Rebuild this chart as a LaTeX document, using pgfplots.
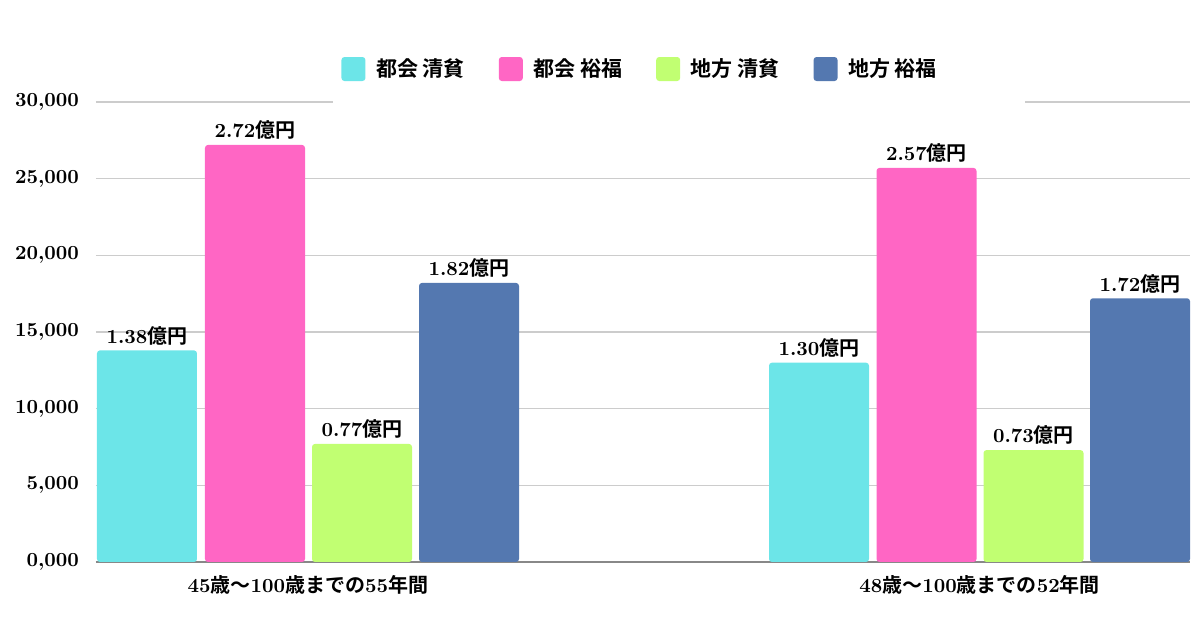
\documentclass[border=0pt]{standalone}
\usepackage{fontspec}
\usepackage{pgfplots}
\pgfplotsset{compat=1.18}
\newfontfamily\cjk{Noto Sans CJK JP}[BoldFont={Noto Sans CJK JP Bold}]
\newcommand\J[1]{{\cjk\bfseries #1}}
\definecolor{cC}{HTML}{6CE5E8}
\definecolor{cP}{HTML}{FF66C4}
\definecolor{cG}{HTML}{C1FF72}
\definecolor{cB}{HTML}{5478B0}
\definecolor{grd}{HTML}{CCCCCC}
\definecolor{axl}{HTML}{888888}
\begin{document}
\begin{tikzpicture}
\useasboundingbox (-48pt,-34pt) rectangle (552pt,281pt);
\begin{axis}[
  scale only axis, width=547pt, height=230pt,
  xmin=0, xmax=1094, ymin=0, ymax=30000,
  clip=false,
  scaled y ticks=false,
  axis x line*=bottom, axis y line*=left,
  x axis line style={draw=axl, line width=0.6pt},
  y axis line style={draw=none},
  major tick length=0pt,
  ymajorgrids, grid style={draw=grd, line width=0.6pt},
  ytick={0,5000,10000,15000,20000,25000,30000},
  yticklabels={{0,000},{5,000},{10,000},{15,000},{20,000},{25,000},{30,000}},
  yticklabel style={font=\fontsize{10}{12}\selectfont\bfseries, xshift=-5pt},
  xtick={212,883.5},
  xticklabels={{45\J{歳〜}100\J{歳までの}55\J{年間}},{48\J{歳〜}100\J{歳までの}52\J{年間}}},
  xticklabel style={font=\fontsize{10}{12}\selectfont\bfseries, yshift=-3pt},
  legend columns=4,
  legend style={draw=none, fill=none, inner sep=0pt, anchor=west, at={(0.224,1.0717)},
    font=\fontsize{10.5}{12}\selectfont,
    /tikz/every odd column/.append style={column sep=3.3pt},
    /tikz/every even column/.append style={column sep=15pt}},
  legend image code/.code={\fill[#1,draw=none] (0pt,-6pt) rectangle (12pt,6pt);},
  every axis plot/.append style={ybar, bar width=100, bar shift=0pt, draw=none, rounded corners=1.5pt},
  point meta=explicit symbolic,
  nodes near coords={\bfseries\pgfplotspointmeta\J{億円}},
  nodes near coords style={font=\fontsize{10}{12}\selectfont, anchor=south, inner sep=2.5pt},
]
\fill[white] (rel axis cs:0.2166,0.9957) rectangle (rel axis cs:0.849,1.1435);
\addplot[fill=cC] coordinates {(51,13800) [1.38] (723,13000) [1.30]};
\addlegendentry{\J{都会 清貧}}
\addplot[fill=cP] coordinates {(159,27200) [2.72] (830.5,25700) [2.57]};
\addlegendentry{\J{都会 裕福}}
\addplot[fill=cG] coordinates {(266,7700) [0.77] (937.5,7300) [0.73]};
\addlegendentry{\J{地方 清貧}}
\addplot[fill=cB] coordinates {(373,18200) [1.82] (1044,17200) [1.72]};
\addlegendentry{\J{地方 裕福}}
\end{axis}
\end{tikzpicture}
\end{document}
